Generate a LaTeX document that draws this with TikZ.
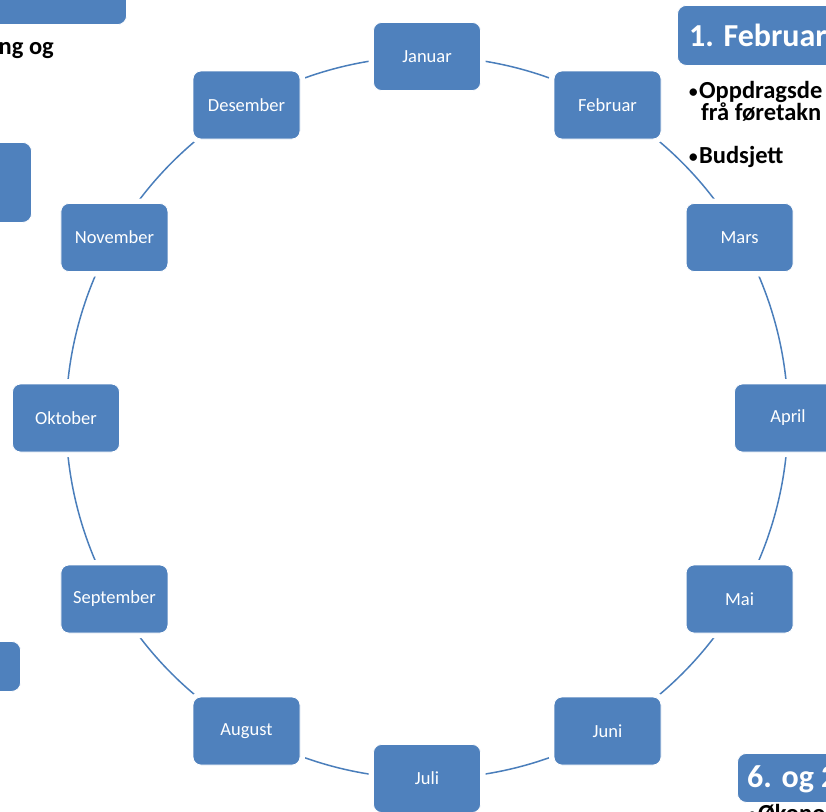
\documentclass[tikz,border=0pt]{standalone}
\usepackage{fontspec}
\setmainfont{Carlito}
\usetikzlibrary{backgrounds}
\definecolor{boxblue}{RGB}{79,129,189}
\definecolor{lineblue}{RGB}{74,126,187}
\newcommand{\smbul}{{\mdseries\fontsize{21}{21}\selectfont •}\hspace{0.5pt}}
\begin{document}
\begin{tikzpicture}[x=1pt,y=-1pt,
  month/.style={fill=boxblue, draw=white, line width=0.8pt, rounded corners=8pt,
    minimum width=107pt, minimum height=68pt, inner sep=0pt, text=white,
    font=\fontsize{18.5}{21}\selectfont, preaction={draw=white, line width=10pt}},
  conn/.style={draw=lineblue, line width=1.5pt},
  sidebox/.style={fill=boxblue, draw=white, line width=0.8pt, rounded corners=9pt, inner sep=0pt},
  headtext/.style={text=white, font=\bfseries\fontsize{32}{37}\selectfont, anchor=base west, inner sep=0pt},
  bodytext/.style={text=black, font=\bfseries\fontsize{24.5}{22}\selectfont, anchor=base west, inner sep=0pt}
]
\path[use as bounding box] (0,0) rectangle (826,811);
\clip (0,0) rectangle (826,811);

% month boxes
\node[month] (jan) at (427,56.5) {Januar};
\node[month] (feb) at (607.5,105) {Februar};
\node[month] (mar) at (739.6,237.5) {Mars};
\node[month] (apr) at (788,418) {April};
\node[month] (mai) at (739.6,599) {Mai};
\node[month] (jun) at (607.5,731) {Juni};
\node[month] (jul) at (427,778.5) {Juli};
\node[month] (aug) at (246.5,731) {August};
\node[month] (sep) at (114.4,599) {September};
\node[month] (okt) at (66,418) {Oktober};
\node[month] (nov) at (114.4,237.5) {November};
\node[month] (des) at (246.5,105) {Desember};

% cycle connectors
\begin{scope}[on background layer]
\foreach \a/\b in {jan/feb,feb/mar,mar/apr,apr/mai,mai/jun,jun/jul,jul/aug,aug/sep,sep/okt,okt/nov,nov/des,des/jan}
  \draw[conn] (\a.center) to[bend left=15, looseness=0.866] (\b.center);
\end{scope}

% clipped side boxes
\node[sidebox, minimum width=160pt, minimum height=55pt, anchor=south east] (tlbox) at (127,25) {};
\node[sidebox, minimum width=60pt, minimum height=80pt, anchor=north east] (lbox1) at (32,142) {};
\node[sidebox, minimum width=50pt, minimum height=50pt, anchor=north east] (lbox2) at (21,641) {};
\node[sidebox, minimum width=180pt, minimum height=60pt, anchor=north west] (febhead) at (677,5) {};
\node[sidebox, minimum width=120pt, minimum height=49pt, anchor=north west] (junhead) at (737,753) {};

% texts
\node[bodytext, anchor=base east] (tltext) at (54,54) {ng og};
\node[headtext] (febtitle) at (689,46) {1. Februar};
\node[bodytext] (feb1) at (688,98) {\smbul Oppdragsde};
\node[bodytext] (feb2) at (701,120) {frå føretakn};
\node[bodytext] (feb3) at (688,163) {\smbul Budsjett};
\node[headtext] (juntitle) at (747,787) {6. og 2};
\node[bodytext] (jun1) at (747,821) {\smbul Økonom};
\end{tikzpicture}
\end{document}
